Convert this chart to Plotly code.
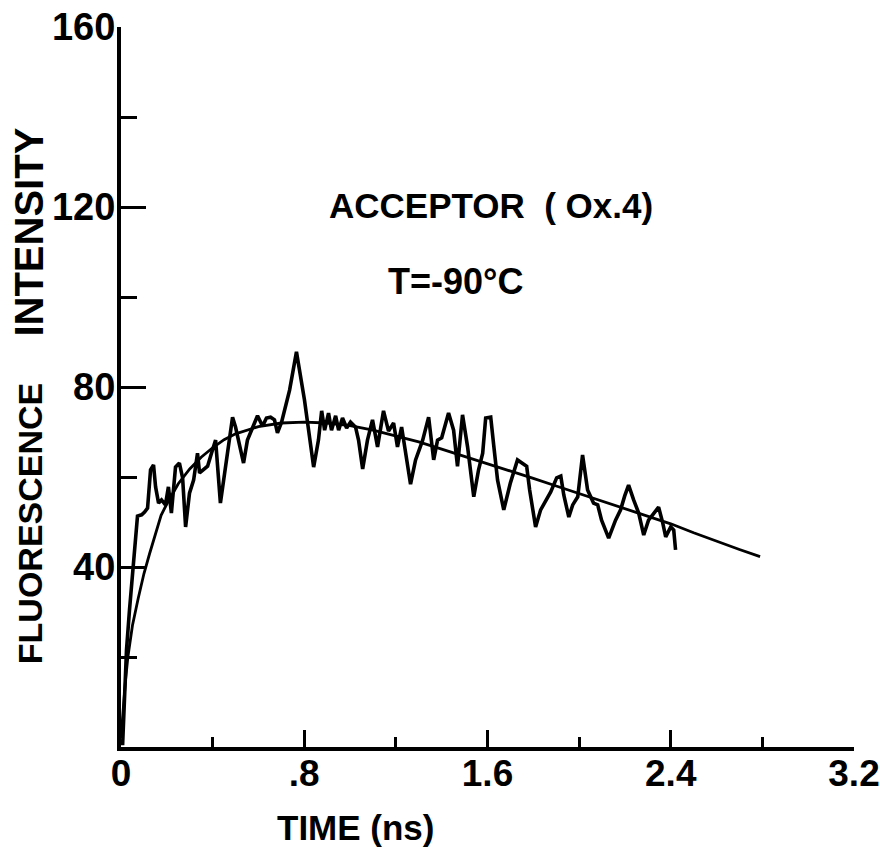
import plotly.graph_objects as go

# Smooth fitted rise-and-decay curve
fit_t = [0, 0.01, 0.02, 0.03, 0.05, 0.075, 0.1, 0.125, 0.15, 0.175, 0.2, 0.25, 0.3,
         0.35, 0.4, 0.45, 0.5, 0.6, 0.7, 0.8, 0.9, 1.0, 1.1, 1.2, 1.3, 1.4, 1.5,
         1.6, 1.7, 1.8, 1.9, 2.0, 2.1, 2.2, 2.3, 2.4, 2.5, 2.6, 2.7, 2.79]
fit_i = [2, 9, 15, 20, 27, 33, 38.5, 43, 47.5, 51.5, 54, 58.5, 61.8,
         64.4, 66.5, 68.3, 69.6, 71.2, 72, 72.2, 72, 71.4, 70.4, 69.1, 67.8, 66.2, 64.6,
         63.0, 61.4, 59.7, 58.0, 56.3, 54.6, 52.9, 51.2, 49.6, 47.6, 45.7, 43.9, 42.3]

# Measured fluorescence trace
obs_t = [0.007, 0.011, 0.015, 0.024, 0.037, 0.050, 0.059, 0.072, 0.090, 0.103, 0.116,
         0.129, 0.142, 0.151, 0.164, 0.177, 0.194, 0.207, 0.220, 0.238, 0.255, 0.269,
         0.282, 0.299, 0.317, 0.334, 0.343, 0.360, 0.378, 0.395, 0.413, 0.434, 0.461,
         0.487, 0.500, 0.535, 0.552, 0.574, 0.596, 0.618, 0.635, 0.653, 0.670, 0.683,
         0.701, 0.736, 0.766, 0.801, 0.841, 0.862, 0.876, 0.889, 0.906, 0.919, 0.937,
         0.950, 0.967, 0.985, 1.002, 1.024, 1.037, 1.055, 1.076, 1.098, 1.120, 1.146,
         1.168, 1.190, 1.207, 1.225, 1.247, 1.264, 1.286, 1.317, 1.343, 1.365, 1.382,
         1.400, 1.430, 1.452, 1.469, 1.491, 1.513, 1.540, 1.561, 1.579, 1.592, 1.614,
         1.627, 1.644, 1.671, 1.700, 1.731, 1.753, 1.771, 1.784, 1.810, 1.832, 1.854,
         1.876, 1.902, 1.920, 1.933, 1.955, 1.972, 1.994, 2.015, 2.037, 2.063, 2.081,
         2.098, 2.129, 2.159, 2.181, 2.199, 2.216, 2.238, 2.260, 2.282, 2.303, 2.321,
         2.347, 2.365, 2.378, 2.400, 2.413, 2.421]
obs_i = [0.4, 4.9, 12.7, 21.6, 30.4, 38.2, 44.9, 51.3, 51.6, 52.2, 53.1,
         61.6, 62.7, 57.8, 54.2, 54.9, 53.8, 57.8, 52.0, 62.2, 63.1, 59.8,
         48.9, 56.4, 59.3, 65.3, 60.9, 61.6, 62.4, 65.3, 68.2, 54.2, 63.8,
         73.3, 71.1, 63.1, 68.2, 71.1, 73.6, 71.3, 73.1, 73.3, 72.7, 69.8,
         72.2, 79.3, 87.8, 77.1, 62.2, 68.2, 74.7, 70.4, 74.2, 70.4, 73.6,
         70.4, 73.1, 70.9, 72.2, 71.1, 68.2, 61.8, 68.2, 72.7, 66.7, 74.7,
         70.2, 72.0, 66.7, 71.1, 63.8, 58.4, 63.8, 68.2, 73.3, 63.8, 68.2,
         68.7, 74.2, 70.4, 62.4, 73.8, 66.7, 55.6, 61.6, 65.3, 73.1, 73.3,
         67.1, 59.3, 52.7, 58.7, 63.8, 63.1, 62.4, 57.1, 48.9, 52.7, 54.9,
         56.7, 59.8, 60.2, 56.0, 51.1, 53.8, 55.6, 64.9, 57.1, 54.2, 53.8,
         50.4, 46.4, 50.4, 52.7, 55.8, 58.2, 54.9, 52.0, 47.1, 50.4, 51.6,
         53.3, 49.8, 46.7, 48.9, 48.2, 43.8]

x_tick_vals = [0, 0.8, 1.6, 2.4, 3.2]
x_tick_text = ["0", ".8", "1.6", "2.4", "3.2"]
y_tick_vals = [40, 80, 120, 160]
y_tick_text = ["40", "80", "120", "160"]

FONT = "Liberation Sans, Arial, sans-serif"
INK = "#000000"


def bold(size):
    return dict(size=size, family=FONT, color=INK, weight="bold")


fig = go.Figure()
fig.add_trace(go.Scatter(x=fit_t, y=fit_i, mode="lines",
                         line=dict(color=INK, width=2.8), hoverinfo="skip"))
fig.add_trace(go.Scatter(x=obs_t, y=obs_i, mode="lines",
                         line=dict(color=INK, width=3.6), hoverinfo="skip"))

fig.update_layout(
    width=880, height=860,
    margin=dict(l=121, r=26, t=27, b=113),
    paper_bgcolor="white", plot_bgcolor="white",
    showlegend=False,
    font=dict(family=FONT, color=INK),
    xaxis=dict(
        range=[0, 3.2], showgrid=False, zeroline=False, automargin=False,
        showline=True, linecolor=INK, linewidth=4,
        tickmode="array", tickvals=x_tick_vals, ticktext=x_tick_text,
        ticks="inside", ticklen=17, tickwidth=3, tickcolor=INK,
        minor=dict(dtick=0.4, tick0=0, ticks="inside", ticklen=10,
                   tickwidth=3, tickcolor=INK, showgrid=False),
        tickfont=bold(37),
        ticklabelstandoff=-9,
    ),
    yaxis=dict(
        range=[0, 160], showgrid=False, zeroline=False, automargin=False,
        showline=True, linecolor=INK, linewidth=4,
        tickmode="array", tickvals=y_tick_vals, ticktext=y_tick_text,
        ticks="inside", ticklen=25, tickwidth=3, tickcolor=INK,
        minor=dict(dtick=20, tick0=0, ticks="inside", ticklen=16,
                   tickwidth=3, tickcolor=INK, showgrid=False),
        tickfont=bold(38),
        ticklabelstandoff=-6,
    ),
    annotations=[
        dict(text="TIME (ns)", xref="paper", yref="paper", x=0.32, y=-0.112,
             xanchor="center", yanchor="middle", showarrow=False, font=bold(35)),
        dict(text="INTENSITY", xref="paper", yref="paper",
             x=-0.125, y=0.715, textangle=-90, xanchor="center", yanchor="middle",
             showarrow=False, font=bold(40)),
        dict(text="FLUORESCENCE", xref="paper", yref="paper",
             x=-0.125, y=0.31, textangle=-90, xanchor="center", yanchor="middle",
             showarrow=False, font=bold(34)),
        dict(text="ACCEPTOR  ( Ox.4)", xref="paper", yref="paper", x=0.505, y=0.752,
             xanchor="center", yanchor="middle", showarrow=False, font=bold(35)),
        dict(text="T=-90°C", xref="paper", yref="paper", x=0.456, y=0.647,
             xanchor="center", yanchor="middle", showarrow=False, font=bold(36)),
    ],
)

fig.write_html("out.html")
